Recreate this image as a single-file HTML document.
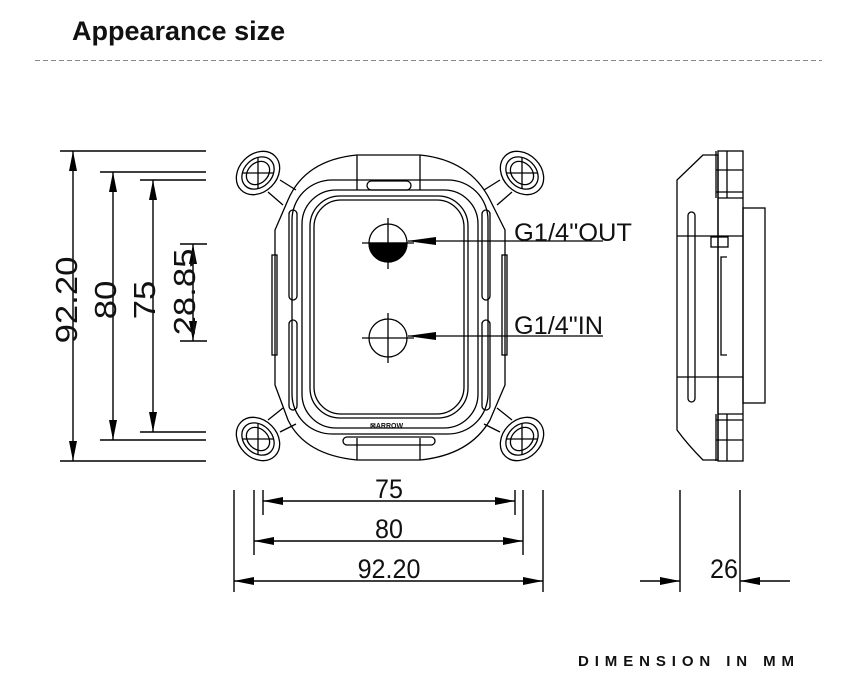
<!DOCTYPE html>
<html><head><style>
body{margin:0;background:#fff;width:856px;height:700px;overflow:hidden}
svg{display:block}
text{font-family:"Liberation Sans",sans-serif;fill:#111}
</style></head><body>
<svg width="856" height="700" viewBox="0 0 856 700" xmlns="http://www.w3.org/2000/svg">
<defs>
<marker id="a" viewBox="0 0 20 8" refX="20" refY="4" markerWidth="20" markerHeight="8" markerUnits="userSpaceOnUse" orient="auto-start-reverse"><path d="M0,0 L20,4 L0,8 z" fill="#000"/></marker>
</defs>
<text x="72" y="40" font-size="27" font-weight="bold">Appearance size</text>
<line x1="35" y1="60.5" x2="822" y2="60.5" stroke="#888" stroke-dasharray="5,3"/>

<g stroke="#000" stroke-width="1.4" fill="none">
<line x1="60" y1="151" x2="206" y2="151"/>
<line x1="100" y1="172" x2="206" y2="172"/>
<line x1="140" y1="180" x2="206" y2="180"/>
<line x1="180" y1="244" x2="207" y2="244"/>
<line x1="180" y1="341" x2="207" y2="341"/>
<line x1="140" y1="432" x2="206" y2="432"/>
<line x1="100" y1="440" x2="206" y2="440"/>
<line x1="60" y1="461" x2="206" y2="461"/>
<line x1="73" y1="151" x2="73" y2="461" marker-start="url(#a)" marker-end="url(#a)"/>
<line x1="113" y1="172" x2="113" y2="440" marker-start="url(#a)" marker-end="url(#a)"/>
<line x1="153" y1="180" x2="153" y2="432" marker-start="url(#a)" marker-end="url(#a)"/>
<line x1="193" y1="244" x2="193" y2="341" marker-start="url(#a)" marker-end="url(#a)"/>
<line x1="234" y1="490" x2="234" y2="592"/>
<line x1="254" y1="490" x2="254" y2="555"/>
<line x1="263" y1="490" x2="263" y2="515"/>
<line x1="515" y1="490" x2="515" y2="515"/>
<line x1="523" y1="490" x2="523" y2="555"/>
<line x1="543" y1="490" x2="543" y2="592"/>
<line x1="263" y1="501" x2="515" y2="501" marker-start="url(#a)" marker-end="url(#a)"/>
<line x1="254" y1="541" x2="523" y2="541" marker-start="url(#a)" marker-end="url(#a)"/>
<line x1="234" y1="581" x2="543" y2="581" marker-start="url(#a)" marker-end="url(#a)"/>
<line x1="680" y1="490" x2="680" y2="592"/>
<line x1="740" y1="490" x2="740" y2="592"/>
<line x1="640" y1="581" x2="680" y2="581" marker-end="url(#a)"/>
<line x1="790" y1="581" x2="740" y2="581" marker-end="url(#a)"/>
</g>
<g font-size="31">
<text transform="translate(77,300) rotate(-90) scale(1.12,1)" text-anchor="middle">92.20</text>
<text transform="translate(116,300) rotate(-90) scale(1.12,1)" text-anchor="middle">80</text>
<text transform="translate(155,300) rotate(-90) scale(1.12,1)" text-anchor="middle">75</text>
<text transform="translate(195,292) rotate(-90) scale(1.12,1)" text-anchor="middle">28.85</text>
</g>
<g font-size="27">
<text transform="translate(389,498) scale(0.93,1)" text-anchor="middle">75</text>
<text transform="translate(389,538) scale(0.93,1)" text-anchor="middle">80</text>
<text transform="translate(389,578) scale(0.93,1)" text-anchor="middle">92.20</text>
<text transform="translate(724,578) scale(0.93,1)" text-anchor="middle">26</text>
</g>

<g stroke="#000" stroke-width="1.3" fill="none">
<path d="M357,155 L420,155 Q470,160 490,200 L505,230 L505,385 L490,420 Q470,455 420,460 L357,460 Q305,455 288,420 L275,385 L275,230 L288,200 Q305,160 357,155 z"/>
<path d="M357,155 L357,190 M420,155 L420,190 M357,438 L357,460 M420,438 L420,460"/>
<rect x="292" y="180" width="196" height="254" rx="40"/>
<rect x="302" y="190" width="176" height="238" rx="34"/>
<rect x="310" y="196" width="158" height="222" rx="30"/>
<rect x="314" y="200" width="150" height="214" rx="27"/>
<rect x="367" y="181" width="44" height="9" rx="4.5"/>
<rect x="343" y="437" width="92" height="8" rx="4"/>
<rect x="289" y="210" width="8" height="90" rx="4"/>
<rect x="289" y="320" width="8" height="90" rx="4"/>
<rect x="482" y="210" width="8" height="90" rx="4"/>
<rect x="482" y="320" width="8" height="90" rx="4"/>
<rect x="272" y="255" width="5" height="100"/>
<rect x="502" y="255" width="5" height="100"/>
<path d="M268,192 L283,205 M280,180 L296,190 M512,192 L497,205 M500,180 L484,190 M268,420 L283,408 M280,432 L296,424 M512,420 L497,408 M500,432 L484,424"/>
<g id="ear">
<ellipse cx="258" cy="173" rx="24" ry="19" transform="rotate(-45 258 173)"/>
<ellipse cx="258" cy="173" rx="18" ry="14" transform="rotate(-45 258 173)"/>
<ellipse cx="258" cy="173" rx="13" ry="10" transform="rotate(-45 258 173)"/>
<path d="M243,173 H273 M258,158 V188"/>
</g>
<use href="#ear" transform="matrix(-1,0,0,1,780,0)"/>
<use href="#ear" transform="matrix(1,0,0,-1,0,612)"/>
<use href="#ear" transform="matrix(-1,0,0,-1,780,612)"/>
<circle cx="388" cy="243" r="19"/>
<circle cx="388" cy="338" r="19"/>
<path d="M362,243 H414 M388,218 V269 M362,338 H414 M388,313 V363"/>
<path d="M369,243 A19,19 0 0 0 407,243 z" fill="#000"/>
<line x1="408" y1="241" x2="603" y2="241"/>
<line x1="408" y1="336" x2="603" y2="336"/>
</g>
<path d="M407,241 L436,237 L436,245 z M407,336 L436,332 L436,340 z" fill="#000"/>
<text x="370" y="428" font-size="7" font-weight="bold">⊠ARROW</text>
<text x="514" y="241" font-size="25" textLength="118" lengthAdjust="spacingAndGlyphs">G1/4"OUT</text>
<text x="514" y="334" font-size="25" textLength="89" lengthAdjust="spacingAndGlyphs">G1/4"IN</text>

<g stroke="#000" stroke-width="1.3" fill="none">
<path d="M703,155 L677,180 L677,430 Q688,445 703,460 L718,460 L718,155 z"/>
<rect x="718" y="151" width="25" height="310"/>
<path d="M716,151 V198 M727,151 V198 M716,414 V461 M727,414 V461 M718,198 H743 M718,414 H743"/>
<path d="M716,170 H743 M716,192 H743 M716,420 H743 M716,440 H743"/>
<rect x="743" y="208" width="22" height="195"/>
<path d="M677,236 H743 M677,377 H743"/>
<rect x="688" y="212" width="7" height="190" rx="3.5"/>
<rect x="711" y="237" width="17" height="10"/>
<path d="M727,257 H721 V355 H727"/>
</g>

<text x="578" y="666" font-size="15" font-weight="bold" textLength="216" lengthAdjust="spacing">DIMENSION IN MM</text>
</svg>
</body></html>
